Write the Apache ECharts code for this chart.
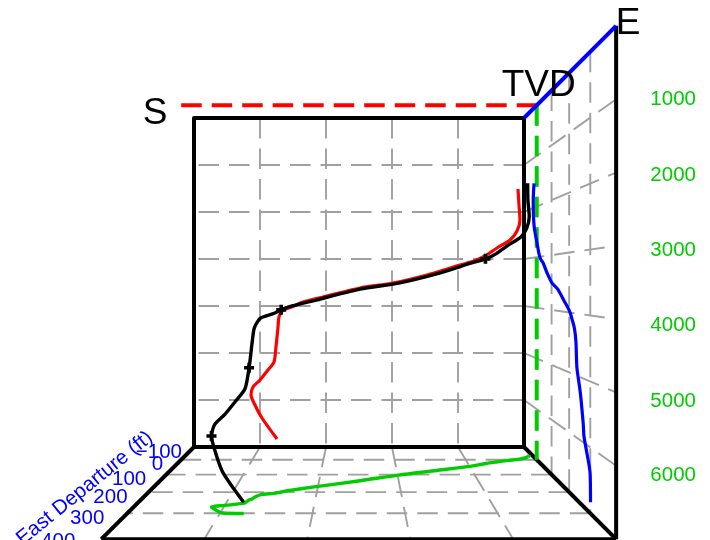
<!DOCTYPE html>
<html>
<head>
<meta charset="utf-8">
<style>html,body{margin:0;padding:0;background:#fff}#c{width:710px;height:540px}</style>
<script src="https://cdn.jsdelivr.net/npm/echarts@6/dist/echarts.min.js"></script>
</head>
<body>
<div id="c"></div>
<script>
// Well survey: south (ft), east departure (ft), true vertical depth (ft)
const south = [91,76,61,106,212,409,591,758,970,1470,1985,2485,3045,3348,3424,3500,3652,3712,3727,3758,3788,3879,4000,4106,4136,4076,3970,3742];
const east  = [-20,-26,-24,-18,-6,5,16,27,45,74,103,137,172,192,199,206,213,226,234,239,253,259,265,269,272,284,299,301];
const tvd   = [1511,1851,2170,2404,2596,2766,2936,3043,3128,3340,3511,3617,3809,3915,3957,4011,4085,4234,4447,4872,5191,5362,5574,5723,5894,6106,6383,6830];
const surveyMarks = [7,14,19,24];

const southTicks = [1000,2000,3000,4000];
const eastTicks = [0,100,200,300];
const tvdTicks = [1000,2000,3000,4000,5000,6000];
const tvdTickLabels = ['1000','2000','3000','4000','5000','6000'];
const eastTickValues = [-100,0,100,200,300,400];
const eastTickLabels = ['\u2212100','0','100','200','300','400'];

// Box extents
const S_MAX = 5000, E_MIN = -100, E_MAX = 400, TVD_MAX = 7000;

// Perspective view of the 3-D box onto the chart plane
const VIEW = {cx:359.5, cy:282.5, left:524, top:118, pxS:0.066, pxT:0.047, k:0.000718};
function project(s, e, t) {
  const f = 1 / (1 - (e - E_MIN) * VIEW.k);
  const bx = VIEW.left - s * VIEW.pxS, by = VIEW.top + t * VIEW.pxT;
  return [VIEW.cx + f * (bx - VIEW.cx), VIEW.cy + f * (by - VIEW.cy)];
}

const GRAY = '#a0a0a0', DASH = [20.5, 10];
const series = [];
function line(points, color, width, type, z, smooth) {
  series.push({type:'line', data:points, showSymbol:false, symbol:'none', silent:true, clip:false, z:z, smooth:smooth||false,
    lineStyle:{color:color, width:width, type:type||'solid', cap:'butt', join:'round'}});
}
function seg(a, b, color, width, type, z) { line([project(a[0],a[1],a[2]), project(b[0],b[1],b[2])], color, width, type, z); }
function text(pos, str, color, size, align, rotate, dx, dy) {
  series.push({type:'scatter', data:[pos], symbolSize:0, silent:true, clip:false, z:20, itemStyle:{opacity:1},
    label:{show:true, position:'inside', formatter:str, color:color, opacity:1, fontSize:size, fontFamily:'Liberation Sans',
      align:align||'center', verticalAlign:'middle', rotate:rotate||0, offset:[dx||0,dy||0]}});
}

// gray grid: back wall
southTicks.forEach(s => seg([s,E_MIN,0],[s,E_MIN,TVD_MAX],GRAY,1.9,DASH,2));
tvdTicks.forEach(t => seg([0,E_MIN,t],[S_MAX,E_MIN,t],GRAY,1.9,DASH,2));
// right wall
eastTicks.forEach(e => seg([0,e,0],[0,e,TVD_MAX],GRAY,1.9,DASH,2));
tvdTicks.forEach(t => seg([0,E_MIN,t],[0,E_MAX,t],GRAY,1.9,DASH,2));
// floor
eastTicks.forEach(e => seg([0,e,TVD_MAX],[S_MAX,e,TVD_MAX],GRAY,1.9,DASH,2));
southTicks.forEach(s => seg([s,E_MIN,TVD_MAX],[s,E_MAX,TVD_MAX],GRAY,1.9,DASH,2));

// black frame
const BLK = '#000';
line([[0,E_MIN,0],[S_MAX,E_MIN,0],[S_MAX,E_MIN,TVD_MAX],[0,E_MIN,TVD_MAX],[0,E_MIN,0]].map(p=>project(...p)),BLK,4,'solid',5);
seg([S_MAX,E_MIN,TVD_MAX],[S_MAX,E_MAX,TVD_MAX],BLK,4,'solid',5);
seg([0,E_MIN,TVD_MAX],[0,E_MAX,TVD_MAX],BLK,4,'solid',5);
seg([S_MAX,E_MAX,TVD_MAX],[0,E_MAX,TVD_MAX],BLK,4,'solid',5);
seg([0,E_MAX,0],[0,E_MAX,TVD_MAX],BLK,4,'solid',5);

// coloured axes
seg([S_MAX,0,0],[0,0,0],'#ff0000',4,DASH,6);
seg([0,0,0],[0,0,TVD_MAX],'#00cc00',4,DASH,6);
seg([0,E_MIN,0],[0,E_MAX,0],'#0000ff',4,'solid',7);

// well path and its three shadows
const idx = south.map((_,i)=>i);
line(idx.map(i=>project(south[i],E_MIN,tvd[i])),'#ff0000',3.2,'solid',10,0.25);
line(idx.map(i=>project(0,east[i],tvd[i])),'#0000ff',3.2,'solid',10,0.25);
line(idx.map(i=>project(south[i],east[i],TVD_MAX)),'#00cc00',3.4,'solid',10,0.25);
line(idx.map(i=>project(south[i],east[i],tvd[i])),'#000000',3.4,'solid',12,0.25);
series.push({type:'scatter', silent:true, clip:false, z:13, symbol:'path://M3.2 0H6.8V3.2H10V6.8H6.8V10H3.2V6.8H0V3.2H3.2Z', symbolSize:10,
  itemStyle:{color:'#000',opacity:1}, data:surveyMarks.map(i=>project(south[i],east[i],tvd[i]))});

// axis titles and tick labels
text(project(S_MAX,0,0),'S','#000',37,'center',0,-26,9);
text(project(0,E_MAX,0),'E','#000',37,'center',0,12,-2);
text(project(0,0,0),'TVD','#000',37,'center',0,2,-19);
const tvdDy = [0,3,5,6,9,10];
tvdTicks.forEach((t,i)=>text(project(0,E_MAX,t),tvdTickLabels[i],'#00cc00',20.5,'center',0,57,tvdDy[i]));
const eastDx = [-12,-18,-20,-21,-23,-26];
const eastDy = [5,5,5,5,5,2];
eastTickValues.forEach((e,i)=>text(project(S_MAX,e,TVD_MAX),eastTickLabels[i],'#0000ff',20.5,'right',0,eastDx[i],eastDy[i]));
text(project(S_MAX,E_MAX,TVD_MAX),'East Departure (ft)','#0000ff',20.5,'center',39,19,-50);

const chart = echarts.init(document.getElementById('c'), null, {renderer:'canvas'});
chart.setOption({
  animation:false,
  backgroundColor:'#fff',
  grid:{left:0,right:0,top:0,bottom:0},
  xAxis:{type:'value',min:0,max:710,show:false},
  yAxis:{type:'value',min:0,max:540,inverse:true,show:false},
  series:series
});
</script>
</body>
</html>
